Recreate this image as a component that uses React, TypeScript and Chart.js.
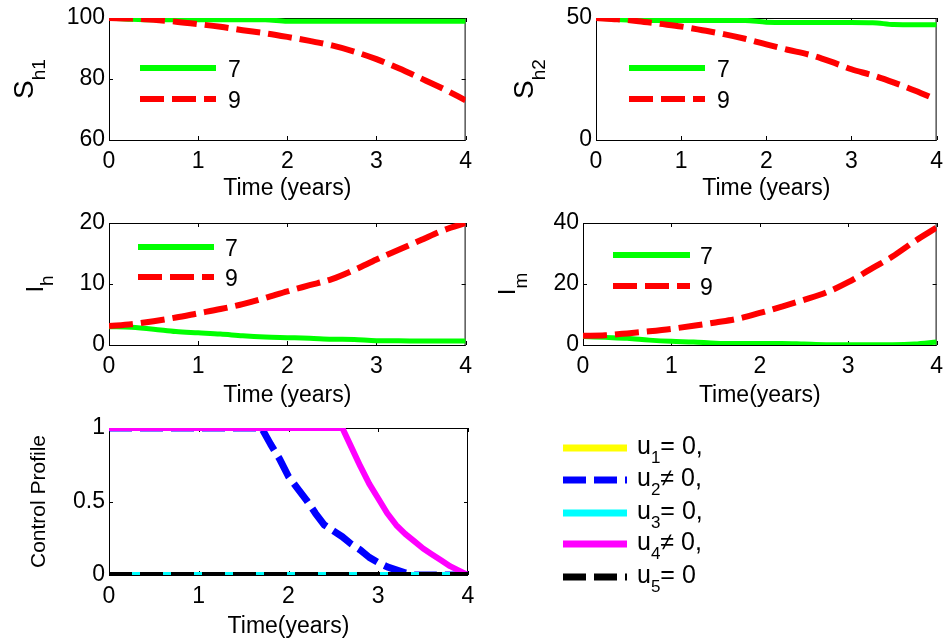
import React, { useEffect, useRef } from 'react';
import { Chart, registerables } from 'chart.js';

Chart.register(...registerables);

const FONT = '"Liberation Sans", Arial, sans-serif';
const TICK_SIZE = 23;
const TITLE_SIZE = 23;

// ---------- data ----------
const timeYears = [0, 0.25, 0.5, 0.75, 1, 1.25, 1.5, 1.75, 2, 2.25, 2.5, 2.75, 3, 3.25, 3.5, 3.75, 4];
const strategyLabels = ['7', '9'];

const sh1Strategy7 = [100, 99.6, 99.4, 99.4, 99.4, 99.4, 99.4, 99.4, 98.9, 98.9, 98.9, 98.9, 98.9, 98.9, 98.9, 98.9, 98.9];
const sh1Strategy9 = [100, 99.8, 99.4, 98.8, 98.0, 97.1, 96.0, 95.0, 93.8, 92.5, 91.0, 89.0, 86.5, 83.5, 80.2, 76.8, 73.0];

const sh2Strategy7 = [50, 49.4, 49.1, 49.0, 49.0, 49.0, 49.0, 49.0, 48.3, 48.2, 48.2, 48.2, 48.2, 48.1, 47.3, 47.2, 47.2];
const sh2Strategy9 = [50, 49.5, 48.7, 47.6, 46.5, 45.0, 43.4, 41.5, 39.2, 37.0, 35.0, 32.2, 29.0, 26.5, 23.5, 20.2, 16.5];

const ihStrategy7 = [3.0, 2.9, 2.6, 2.2, 2.0, 1.8, 1.5, 1.3, 1.2, 1.1, 0.95, 0.9, 0.7, 0.7, 0.65, 0.65, 0.65];
const ihStrategy9 = [3.1, 3.4, 3.9, 4.5, 5.2, 5.9, 6.7, 7.7, 8.8, 9.8, 10.8, 12.3, 14.0, 15.6, 17.2, 18.8, 20.0];

const imStrategy7 = [2.8, 2.5, 2.2, 1.6, 1.2, 1.0, 0.6, 0.5, 0.5, 0.5, 0.3, 0.1, 0.1, 0.1, 0.1, 0.3, 1.0];
const imStrategy9 = [3.0, 3.2, 3.8, 4.5, 5.3, 6.3, 7.4, 8.6, 10.5, 12.6, 14.8, 17.2, 20.6, 24.8, 29.0, 34.0, 38.5];

const controlTime = [0, 0.5, 1, 1.5, 1.7, 1.8, 1.9, 2.0, 2.1, 2.2, 2.3, 2.4, 2.5, 2.6, 2.7, 2.8, 2.9, 3.0, 3.1, 3.2, 3.3, 3.4, 3.5, 3.6, 3.7, 3.8, 3.9, 4.0];
const u1Values = [0, 0, 0, 0, 0, 0, 0, 0, 0, 0, 0, 0, 0, 0, 0, 0, 0, 0, 0, 0, 0, 0, 0, 0, 0, 0, 0, 0];
const u2Values = [1, 1, 1, 1, 1, 0.89, 0.79, 0.67, 0.59, 0.51, 0.42, 0.34, 0.30, 0.26, 0.21, 0.17, 0.12, 0.085, 0.055, 0.035, 0.015, 0, 0, 0, 0, 0, 0, 0];
const u3Values = [0, 0, 0, 0, 0, 0, 0, 0, 0, 0, 0, 0, 0, 0, 0, 0, 0, 0, 0, 0, 0, 0, 0, 0, 0, 0, 0, 0];
const u4Values = [1, 1, 1, 1, 1, 1, 1, 1, 1, 1, 1, 1, 1, 1, 0.87, 0.74, 0.62, 0.52, 0.42, 0.34, 0.28, 0.23, 0.18, 0.14, 0.10, 0.06, 0.03, 0.0];
const u5Values = [0, 0, 0, 0, 0, 0, 0, 0, 0, 0, 0, 0, 0, 0, 0, 0, 0, 0, 0, 0, 0, 0, 0, 0, 0, 0, 0, 0];
const controlSymbols = ['u', 'u', 'u', 'u', 'u'];
const controlSubs = ['1', '2', '3', '4', '5'];
const controlRelations = ['= 0,', '\u2260 0,', '= 0,', '\u2260 0,', '= 0'];

const timeTicks = [0, 1, 2, 3, 4];
const sh1Ticks = [60, 80, 100];
const sh2Ticks = [0, 50];
const ihTicks = [0, 10, 20];
const imTicks = [0, 20, 40];
const controlTicks = [0, 0.5, 1];

// ---------- styles ----------
const GREEN = '#00ff00';
const RED = '#ff0000';
const RED_DASH = [24, 8];
const CTRL_DASH = [23, 8];
const controlColors = ['#ffff00', '#0000ff', '#00ffff', '#ff00ff', '#000000'];
const controlDashes = [[], CTRL_DASH, [], [], CTRL_DASH];
const controlWidths = [6, 7, 6, 6, 6];

const toPoints = (xs: number[], ys: number[]) => xs.map((x, i) => ({ x, y: ys[i] }));

function strategySets(s7: number[], s9: number[]) {
  return [
    {
      label: strategyLabels[0],
      data: toPoints(timeYears, s7),
      borderColor: GREEN,
      borderWidth: 5,
      borderDash: [],
      cubicInterpolationMode: 'monotone',
      order: 2,
    },
    {
      label: strategyLabels[1],
      data: toPoints(timeYears, s9),
      borderColor: RED,
      borderWidth: 6,
      borderDash: RED_DASH,
      cubicInterpolationMode: 'monotone',
      order: 1,
    },
  ];
}

function controlSets() {
  const vals = [u1Values, u2Values, u3Values, u4Values, u5Values];
  return vals.map((v, i) => ({
    label: controlSymbols[i] + controlSubs[i] + controlRelations[i],
    data: toPoints(controlTime, v),
    borderColor: controlColors[i],
    borderWidth: controlWidths[i],
    borderDash: controlDashes[i],
    tension: 0,
    order: 5 - i,
  }));
}

function strategyLegend(x0: number, x1: number, textX: number, ys: number[]) {
  return {
    x0, x1, textX, ys, size: 23, subSize: 16, drop: 9, baseOff: 9,
    items: [
      { text: strategyLabels[0], color: GREEN, dash: [], width: 6 },
      { text: strategyLabels[1], color: RED, dash: RED_DASH, width: 6 },
    ],
  };
}

const PANELS: any[] = [
  {
    id: 'sh1',
    box: { left: 0, top: 0, width: 480, height: 200 },
    area: { l: 109, t: 18, r: 468, b: 140 },
    y: { min: 60, max: 100, ticks: sh1Ticks },
    datasets: strategySets(sh1Strategy7, sh1Strategy9),
    yTitle: { main: 'S', sub: 'h1', size: 28, subSize: 19, baselineX: 33, drop: 12 },
    xTitle: { text: 'Time (years)', baseline: 195 },
    legend: strategyLegend(140, 216, 228, [68, 99]),
  },
  {
    id: 'sh2',
    box: { left: 480, top: 0, width: 471, height: 200 },
    area: { l: 116, t: 18, r: 461, b: 140 },
    y: { min: 0, max: 50, ticks: sh2Ticks },
    datasets: strategySets(sh2Strategy7, sh2Strategy9),
    yTitle: { main: 'S', sub: 'h2', size: 28, subSize: 19, baselineX: 53, drop: 12 },
    xTitle: { text: 'Time (years)', baseline: 195 },
    legend: strategyLegend(149, 225, 237, [68, 99]),
  },
  {
    id: 'ih',
    box: { left: 0, top: 200, width: 480, height: 210 },
    area: { l: 109, t: 23, r: 468, b: 145 },
    y: { min: 0, max: 20, ticks: ihTicks },
    datasets: strategySets(ihStrategy7, ihStrategy9),
    yTitle: { main: 'I', sub: 'h', size: 24, subSize: 19, baselineX: 43, drop: 10 },
    xTitle: { text: 'Time (years)', baseline: 202 },
    legend: strategyLegend(138, 214, 225, [47, 77]),
  },
  {
    id: 'im',
    box: { left: 480, top: 200, width: 471, height: 210 },
    area: { l: 103, t: 23, r: 463, b: 145 },
    y: { min: 0, max: 40, ticks: imTicks },
    datasets: strategySets(imStrategy7, imStrategy9),
    yTitle: { main: 'I', sub: 'm', size: 24, subSize: 19, baselineX: 35, drop: 12 },
    xTitle: { text: 'Time(years)', baseline: 202 },
    legend: strategyLegend(133, 210, 220, [55, 86]),
  },
  {
    id: 'ctrl',
    box: { left: 0, top: 410, width: 951, height: 231 },
    area: { l: 109, t: 18, r: 468, b: 165 },
    y: { min: 0, max: 1, ticks: controlTicks },
    datasets: controlSets(),
    yTitle: { main: 'Control Profile', size: 21, subSize: 12, baselineX: 45, drop: 0 },
    xTitle: { text: 'Time(years)', baseline: 223 },
    legend: {
      x0: 563, x1: 627, textX: 637, ys: [38, 70, 103, 134, 167], size: 25, subSize: 17, drop: 9, baseOff: 6,
      items: controlSymbols.map((s, i) => ({
        text: s, sub: controlSubs[i], rest: controlRelations[i],
        color: controlColors[i], dash: controlDashes[i], width: 7,
      })),
    },
  },
];

// ---------- plugin drawing MATLAB-like box, titles and legends ----------
const figurePlugin = {
  id: 'figure',
  beforeDatasetsDraw(chart: any) {
    const { ctx, chartArea: a, scales } = chart;
    ctx.save();
    ctx.strokeStyle = '#000';
    ctx.lineWidth = 1;
    ctx.setLineDash([]);
    ctx.strokeRect(a.left + 0.5, a.top + 0.5, a.right - a.left - 1, a.bottom - a.top);
    const tl = 4;
    ctx.beginPath();
    scales.x.ticks.forEach((t: any) => {
      const px = Math.round(scales.x.getPixelForValue(t.value)) + 0.5;
      ctx.moveTo(px, a.bottom); ctx.lineTo(px, a.bottom - tl);
      ctx.moveTo(px, a.top); ctx.lineTo(px, a.top + tl);
    });
    scales.y.ticks.forEach((t: any) => {
      const py = Math.round(scales.y.getPixelForValue(t.value)) + 0.5;
      ctx.moveTo(a.left, py); ctx.lineTo(a.left + tl, py);
      ctx.moveTo(a.right, py); ctx.lineTo(a.right - tl, py);
    });
    ctx.stroke();
    ctx.restore();
  },
  afterDraw(chart: any, _args: any, opts: any) {
    const { ctx, chartArea: a } = chart;
    ctx.save();
    ctx.fillStyle = '#000';
    ctx.textBaseline = 'alphabetic';

    // x title
    ctx.font = `${TITLE_SIZE}px ${FONT}`;
    ctx.textAlign = 'center';
    ctx.fillText(opts.xTitle.text, (a.left + a.right) / 2, opts.xTitle.baseline);

    // y title (rotated, optional subscript)
    const yt = opts.yTitle;
    ctx.save();
    ctx.translate(yt.baselineX, (a.top + a.bottom) / 2);
    ctx.rotate(-Math.PI / 2);
    ctx.textAlign = 'left';
    ctx.font = `${yt.size}px ${FONT}`;
    const w1 = ctx.measureText(yt.main).width;
    ctx.font = `${yt.subSize}px ${FONT}`;
    const w2 = yt.sub ? ctx.measureText(yt.sub).width : 0;
    const x0 = -(w1 + w2) / 2;
    ctx.font = `${yt.size}px ${FONT}`;
    ctx.fillText(yt.main, x0, 0);
    if (yt.sub) {
      ctx.font = `${yt.subSize}px ${FONT}`;
      ctx.fillText(yt.sub, x0 + w1, yt.drop);
    }
    ctx.restore();

    // legend
    const lg = opts.legend;
    lg.items.forEach((it: any, i: number) => {
      const y = lg.ys[i];
      ctx.save();
      ctx.strokeStyle = it.color;
      ctx.lineWidth = it.width;
      ctx.lineCap = 'butt';
      ctx.setLineDash(it.dash);
      ctx.beginPath();
      ctx.moveTo(lg.x0, y);
      ctx.lineTo(lg.x1, y);
      ctx.stroke();
      ctx.restore();
      ctx.textAlign = 'left';
      let x = lg.textX;
      const by = y + lg.baseOff;
      ctx.font = `${lg.size}px ${FONT}`;
      ctx.fillText(it.text, x, by);
      x += ctx.measureText(it.text).width;
      if (it.sub) {
        ctx.font = `${lg.subSize}px ${FONT}`;
        ctx.fillText(it.sub, x, by + lg.drop);
        x += ctx.measureText(it.sub).width;
      }
      if (it.rest) {
        ctx.font = `${lg.size}px ${FONT}`;
        ctx.fillText(it.rest, x, by);
      }
    });
    ctx.restore();
  },
};

function buildConfig(p: any): any {
  const yWidth = p.area.l;
  const xHeight = p.box.height - p.area.b;
  const tickFont = { family: FONT, size: TICK_SIZE };
  return {
    type: 'line',
    data: { datasets: p.datasets },
    options: {
      animation: false,
      responsive: false,
      maintainAspectRatio: false,
      events: [],
      layout: { padding: { top: p.area.t, right: p.box.width - p.area.r, left: 0, bottom: 0 } },
      elements: { point: { radius: 0 }, line: { borderCapStyle: 'butt', borderJoinStyle: 'round', fill: false } },
      plugins: {
        legend: { display: false },
        tooltip: { enabled: false },
        title: { display: false },
        figure: { xTitle: p.xTitle, yTitle: p.yTitle, legend: p.legend },
      },
      scales: {
        x: {
          type: 'linear', min: 0, max: 4,
          afterBuildTicks: (s: any) => { s.ticks = timeTicks.map((value) => ({ value })); },
          afterFit: (s: any) => { s.height = xHeight; },
          grid: { display: false, drawTicks: false },
          border: { display: false },
          ticks: { color: '#000', font: tickFont, padding: 8, maxRotation: 0, autoSkip: false, callback: (v: any) => String(v) },
        },
        y: {
          type: 'linear', min: p.y.min, max: p.y.max,
          afterBuildTicks: (s: any) => { s.ticks = p.y.ticks.map((value: number) => ({ value })); },
          afterFit: (s: any) => { s.width = yWidth; },
          grid: { display: false, drawTicks: false },
          border: { display: false },
          ticks: { color: '#000', font: tickFont, padding: 4, autoSkip: false, callback: (v: any) => String(v) },
        },
      },
    },
    plugins: [figurePlugin],
  };
}

export default function App() {
  const refs = useRef<(HTMLCanvasElement | null)[]>([]);
  useEffect(() => {
    const charts = PANELS.map((p, i) => new Chart(refs.current[i] as HTMLCanvasElement, buildConfig(p)));
    return () => charts.forEach((c) => c.destroy());
  }, []);
  return (
    <div style={{ position: 'absolute', left: 0, top: 0, width: 951, height: 641, background: '#fff' }}>
      {PANELS.map((p, i) => (
        <canvas
          key={p.id}
          ref={(el) => { refs.current[i] = el; }}
          width={p.box.width}
          height={p.box.height}
          style={{ position: 'absolute', left: p.box.left, top: p.box.top, width: p.box.width, height: p.box.height }}
        />
      ))}
    </div>
  );
}
